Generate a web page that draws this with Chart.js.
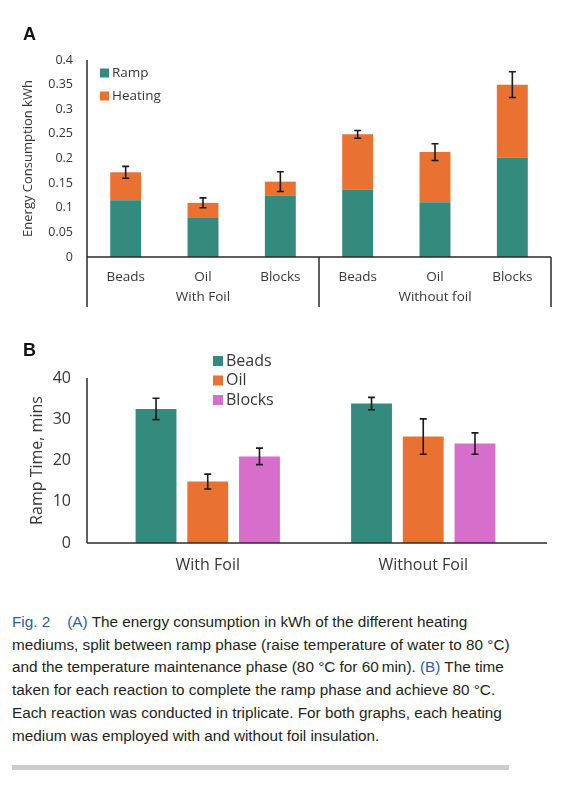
<!DOCTYPE html>
<html>
<head>
<meta charset="utf-8">
<script src="https://cdn.jsdelivr.net/npm/chart.js@4.4.1/dist/chart.umd.min.js"></script>
<style>
  body { margin: 0; background: #fff; width: 578px; height: 792px; position: relative; overflow: hidden; }
  .panel { position: absolute; left: 0; width: 578px; }
  #wrapA { top: 0; height: 320px; }
  #wrapB { top: 320px; height: 270px; }
  .letter { position: absolute; font: bold 18px "Liberation Sans", Arial, sans-serif; line-height: 18px; color: #111; }
  #caption { position: absolute; left: 12px; top: 611px; font: 15.3px "Liberation Sans", Arial, sans-serif; line-height: 22.7px; color: #231f20; white-space: nowrap; }
  .blue { color: #2f5d9c; }
  #rule { position: absolute; left: 12px; top: 765px; width: 497px; height: 5px; background: #cdcdcd; }
</style>
</head>
<body>
<div class="panel" id="wrapA"><canvas id="chartA" width="578" height="320"></canvas></div>
<div class="panel" id="wrapB"><canvas id="chartB" width="578" height="270"></canvas></div>
<div class="letter" style="left:23px; top:25px;">A</div>
<div class="letter" style="left:23px; top:341px;">B</div>
<div id="caption">
  <span class="blue">Fig. 2</span>&nbsp;&nbsp;&nbsp;&nbsp;<span class="blue">(A)</span> The energy consumption in kWh of the different heating<br>
  mediums, split between ramp phase (raise temperature of water to 80 °C)<br>
  and the temperature maintenance phase (80 °C for 60&thinsp;min). <span class="blue">(B)</span> The time<br>
  taken for each reaction to complete the ramp phase and achieve 80 °C.<br>
  Each reaction was conducted in triplicate. For both graphs, each heating<br>
  medium was employed with and without foil insulation.
</div>
<div id="rule"></div>

<script>
// Panel A: energy consumption (kWh), stacked ramp + heating
const categoriesA = ['Beads', 'Oil', 'Blocks', 'Beads', 'Oil', 'Blocks'];
const groupsA = ['With Foil', 'Without foil'];
const rampA = [0.115, 0.079, 0.124, 0.137, 0.111, 0.202];
const heatingA = [0.057, 0.031, 0.029, 0.112, 0.102, 0.148];
const totalErrA = [0.012, 0.010, 0.020, 0.008, 0.017, 0.026];

// Panel B: ramp time (mins)
const groupsB = ['With Foil', 'Without Foil'];
const beadsB = [32.5, 33.8];
const oilB = [14.9, 25.8];
const blocksB = [21.0, 24.1];
const beadsErrB = [2.6, 1.5];
const oilErrB = [1.8, 4.3];
const blocksErrB = [2.0, 2.6];

const TEAL = '#348a7c';
const ORANGE = '#e97132';
const PINK = '#d86ecc';
const AXIS = '#2b2b2b';
const TEXT = '#363636';
const FONT = '"Open Sans", "Liberation Sans", sans-serif';

// error bars drawn from each dataset's errorBars array
const errorBarPlugin = {
  id: 'errorBars',
  afterDatasetsDraw(chart) {
    const ctx = chart.ctx;
    const y = chart.scales.y;
    chart.data.datasets.forEach((ds, i) => {
      if (!ds.errorBars) return;
      const meta = chart.getDatasetMeta(i);
      meta.data.forEach((bar, j) => {
        const top = y.getValueForPixel(bar.y);
        const hi = y.getPixelForValue(top + ds.errorBars[j]);
        const lo = y.getPixelForValue(top - ds.errorBars[j]);
        ctx.save();
        ctx.strokeStyle = '#1a1a1a';
        ctx.lineWidth = 1.6;
        ctx.beginPath();
        ctx.moveTo(bar.x, hi); ctx.lineTo(bar.x, lo);
        ctx.moveTo(bar.x - 3.5, hi); ctx.lineTo(bar.x + 3.5, hi);
        ctx.moveTo(bar.x - 3.5, lo); ctx.lineTo(bar.x + 3.5, lo);
        ctx.stroke();
        ctx.restore();
      });
    });
  }
};

function drawLegend(chart, x, y0, step, size, fontSize) {
  const ctx = chart.ctx;
  ctx.save();
  ctx.font = fontSize + 'px ' + FONT;
  ctx.textBaseline = 'middle';
  chart.data.datasets.forEach((ds, i) => {
    const cy = y0 + i * step;
    ctx.fillStyle = ds.backgroundColor;
    ctx.fillRect(x, cy - size / 2, size, size);
    ctx.fillStyle = TEXT;
    ctx.fillText(ds.label, x + size + 3, cy);
  });
  ctx.restore();
}

const axesPluginA = {
  id: 'axesA',
  afterDraw(chart) {
    const ctx = chart.ctx;
    const a = chart.chartArea;
    const xs = chart.scales.x;
    const bottom = a.bottom + 50;
    const sep = (xs.getPixelForTick(2) + xs.getPixelForTick(3)) / 2;
    ctx.save();
    ctx.strokeStyle = AXIS;
    ctx.lineWidth = 1.5;
    ctx.beginPath();
    ctx.moveTo(a.left, a.top); ctx.lineTo(a.left, bottom);
    ctx.moveTo(a.left, a.bottom); ctx.lineTo(a.right, a.bottom);
    ctx.moveTo(sep, a.bottom); ctx.lineTo(sep, bottom);
    ctx.moveTo(a.right, a.bottom); ctx.lineTo(a.right, bottom);
    ctx.stroke();
    ctx.fillStyle = TEXT;
    ctx.font = '13.5px ' + FONT;
    ctx.textAlign = 'center';
    ctx.textBaseline = 'middle';
    ctx.fillText(groupsA[0], xs.getPixelForTick(1), a.bottom + 40);
    ctx.fillText(groupsA[1], xs.getPixelForTick(4), a.bottom + 40);
    ctx.restore();
    drawLegend(chart, 100, 73, 23, 9, 13.5);
  }
};

const axesPluginB = {
  id: 'axesB',
  afterDraw(chart) {
    const ctx = chart.ctx;
    const a = chart.chartArea;
    ctx.save();
    ctx.strokeStyle = AXIS;
    ctx.lineWidth = 1.5;
    ctx.beginPath();
    ctx.moveTo(87, a.top); ctx.lineTo(87, a.bottom);
    ctx.moveTo(87, a.bottom); ctx.lineTo(547, a.bottom);
    ctx.stroke();
    ctx.restore();
    drawLegend(chart, 213, 41, 19.5, 10, 16);
  }
};

new Chart(document.getElementById('chartA'), {
  type: 'bar',
  data: {
    labels: categoriesA,
    datasets: [
      { label: 'Ramp', data: rampA, backgroundColor: TEAL },
      { label: 'Heating', data: heatingA, backgroundColor: ORANGE, errorBars: totalErrA }
    ]
  },
  options: {
    responsive: false,
    animation: false,
    layout: { padding: { left: 0, right: 27, top: 60, bottom: 13 } },
    datasets: { bar: { categoryPercentage: 1, barPercentage: 0.4 } },
    plugins: { legend: { display: false }, tooltip: { enabled: false } },
    scales: {
      x: {
        stacked: true,
        grid: { display: false },
        border: { display: false },
        ticks: { color: TEXT, font: { family: FONT, size: 13.5 }, padding: 4, maxRotation: 0 },
        afterFit(s) { s.height = 50; }
      },
      y: {
        stacked: true,
        min: 0, max: 0.4,
        grid: { display: false, drawTicks: false },
        border: { display: false },
        ticks: {
          stepSize: 0.05, color: TEXT, padding: 14,
          font: { family: FONT, size: 12.5 },
          callback: v => String(Number(v.toFixed(2)))
        },
        title: { display: true, text: 'Energy Consumption kWh', color: TEXT, font: { family: FONT, size: 13 }, padding: { top: 20 } },
        afterFit(s) { s.width = 87; }
      }
    }
  },
  plugins: [errorBarPlugin, axesPluginA]
});

new Chart(document.getElementById('chartB'), {
  type: 'bar',
  data: {
    labels: groupsB,
    datasets: [
      { label: 'Beads', data: beadsB, backgroundColor: TEAL, errorBars: beadsErrB },
      { label: 'Oil', data: oilB, backgroundColor: ORANGE, errorBars: oilErrB },
      { label: 'Blocks', data: blocksB, backgroundColor: PINK, errorBars: blocksErrB }
    ]
  },
  options: {
    responsive: false,
    animation: false,
    layout: { padding: { left: 0, right: 47, top: 58, bottom: 0 } },
    datasets: { bar: { categoryPercentage: 0.72, barPercentage: 0.79 } },
    plugins: { legend: { display: false }, tooltip: { enabled: false } },
    scales: {
      x: {
        grid: { display: false },
        border: { display: false },
        ticks: { color: TEXT, font: { family: FONT, size: 16 }, padding: 5 },
        afterFit(s) { s.height = 47; }
      },
      y: {
        min: 0, max: 40,
        grid: { display: false, drawTicks: false },
        border: { display: false },
        ticks: { stepSize: 10, color: TEXT, padding: 29, font: { family: FONT, size: 16 } },
        title: { display: true, text: 'Ramp Time, mins', color: TEXT, font: { family: FONT, size: 16 }, padding: { top: 28 } },
        afterFit(s) { s.width = 100; }
      }
    }
  },
  plugins: [errorBarPlugin, axesPluginB]
});
</script>
</body>
</html>
